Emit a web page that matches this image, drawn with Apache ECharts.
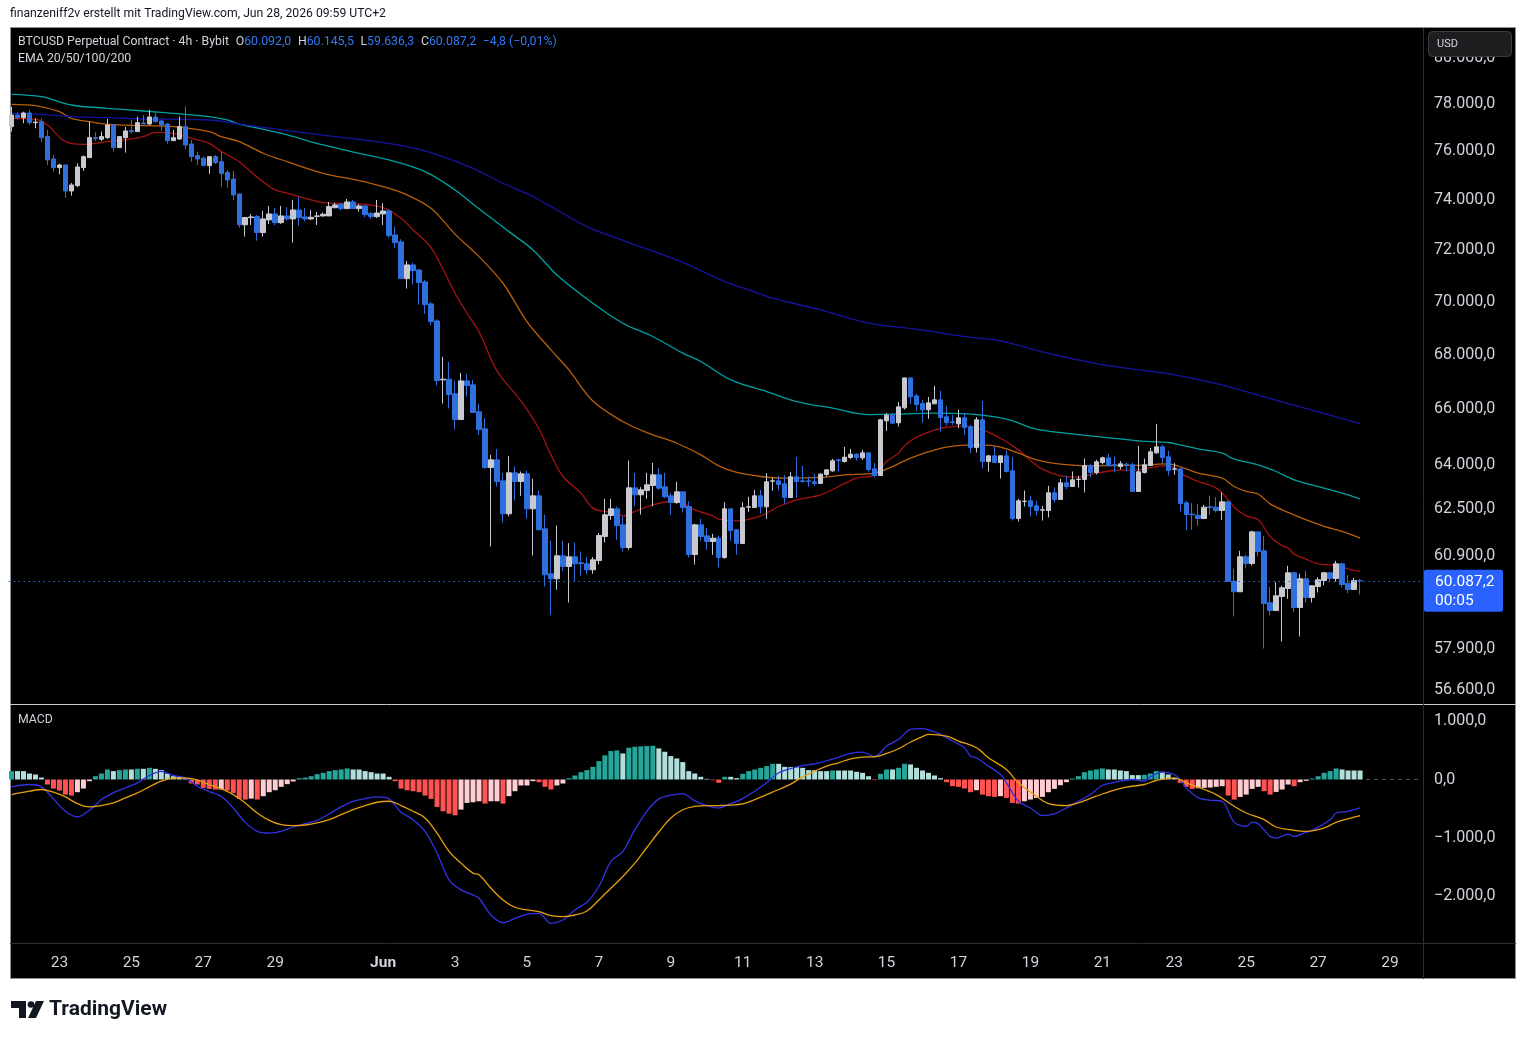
<!DOCTYPE html>
<html><head><meta charset="utf-8">
<script src="https://cdn.jsdelivr.net/npm/echarts@6/dist/echarts.min.js"></script>
<style>html,body{margin:0;padding:0;background:#fff}#c{width:1526px;height:1040px}</style>
</head><body><div id="c"></div>
<script>
// ---- data ----
const opens = [77040,77532,77420,77617,77208,77250,76620,75688,75330,75440,
74375,74592,75330,75744,76577,76508,76577,77110,76160,76577,
76870,76830,77194,77152,77448,77278,77152,76450,76520,77040,
76312,75828,75717,75412,75785,75577,75125,74865,74253,73010,
73298,73338,72700,73205,73445,73097,73365,73245,73606,73325,
73245,73350,73365,73365,73700,73835,73660,73929,73660,73767,
73458,73338,73445,73566,72606,72330,70892,71425,71230,70764,
69917,69270,67070,67095,66560,65630,67033,66887,65910,65296,
63928,64198,63465,62330,63744,63441,63709,62500,62946,61820,
60317,60152,60914,60559,60881,60682,60648,60449,60758,61561,
62272,62500,61955,61191,63222,62981,63129,63303,63674,63257,
62946,62717,63084,62580,60958,61955,61584,61393,61505,60858,
62500,61786,61326,62557,62546,62946,62569,63454,63465,63361,
62889,63604,63465,63465,63431,63372,63686,63813,64198,64140,
64280,64398,64268,64444,63883,63651,65583,65788,65512,66051,
67143,66485,66207,65979,66196,66340,65727,65547,65476,65691,
65368,64632,65619,64140,64339,64104,64339,63813,62170,62752,
62775,62603,62455,62443,63050,62820,63396,63268,63512,63512,
63988,63756,64104,64268,64023,63964,64046,64023,63096,63756,
63999,64444,64656,64303,63872,63883,62706,62318,62284,62170,
62568,62557,62443,62740,60075,59727,60881,60659,61718,61081,
59368,59119,59574,59835,60350,59216,60152,59541,59901,60097,
60350,60163,60648,59999,59803,60092];
const closes = [77532,77420,77617,77208,77230,76577,75647,75330,75440,74375,
74620,75358,75785,76577,76535,76620,77110,76160,76620,76857,
76830,77208,77152,77448,77250,77110,76450,76577,77040,76270,
75785,75688,75412,75785,75536,75084,74824,74213,73010,73300,
73325,72700,73245,73445,73097,73365,73245,73606,73298,73245,
73312,73365,73432,73740,73808,73660,73929,73660,73767,73418,
73338,73485,73566,72580,72302,70892,71425,71202,70738,69890,
69243,67045,67095,66535,65630,67033,66862,65885,65271,63928,
64198,63441,62330,63744,63441,63709,62500,62946,61786,60284,
60152,60914,60559,60881,60648,60659,60449,60781,61595,62296,
62500,61932,61191,63222,62981,63153,63327,63674,63212,62912,
62717,63084,62546,60958,61955,61561,61393,61505,60858,62500,
61763,61326,62535,62569,62946,62569,63431,63465,63338,62889,
63604,63441,63441,63441,63372,63698,63848,64163,64174,64292,
64398,64280,64444,63859,63651,65619,65788,65500,66087,67143,
66449,66170,65979,66232,66340,65703,65524,65524,65691,65343,
64632,65619,64140,64339,64104,64339,63790,62170,62775,62763,
62580,62443,62466,63050,62820,63396,63268,63500,63523,63988,
63756,64128,64268,63999,64012,64058,64035,63096,63779,64023,
64480,64656,64280,63824,63883,62683,62307,62296,62170,62557,
62546,62443,62740,60064,59727,60881,60659,61718,61058,59346,
59119,59596,59858,60350,59216,60152,59541,59923,60119,60350,
60163,60648,59966,59803,60092,60087.2];
const lows = [76830,77320,77180,77110,76970,76382,75440,75167,75058,74105,
74185,74538,75194,75744,76437,76437,76520,75994,76160,75952,
76745,76830,77138,77110,77208,76870,76326,76437,76479,76105,
75577,75440,75412,75071,75482,74550,74510,74010,72900,72540,
73005,72380,72540,73044,72992,73044,73178,72302,72965,73150,
73205,73005,73338,73365,73660,73580,73660,73660,73538,73312,
73232,73285,73005,72500,72092,70892,70506,70660,69890,69535,
69118,66862,66206,66030,65271,65630,66463,65885,65082,63883,
61226,63268,62033,62238,62785,62946,62170,60925,61786,59901,
58980,59792,60416,59378,60053,60261,60306,60317,60625,61360,
62125,61449,61058,61114,62603,62306,62843,62580,63153,62867,
62296,62672,62374,60858,60625,61426,61114,60947,60526,60814,
61416,60947,61326,62398,62546,62340,62159,63119,63129,62672,
62889,62878,63406,63257,63292,63372,63616,63779,63790,64104,
64233,64174,64198,63779,63582,63651,65224,65464,65380,65990,
66185,65943,65523,65655,66196,65200,65415,65440,65320,65082,
64433,64456,63894,63790,64104,63547,63756,62103,62069,62580,
62238,62272,62103,62204,62717,62820,63177,63268,63234,63061,
63593,63686,64035,63964,63756,63859,63790,63096,63096,63721,
63977,64409,64083,63651,63674,62409,61763,61786,61922,62170,
62296,62375,62125,60064,58926,59727,60494,60593,60892,57902,
58958,59119,58125,59498,59055,58284,59378,59378,59705,59934,
60031,60064,59868,59683,59803,59636.3];
const highs = [77885,77645,77673,77745,77390,77390,76900,75855,75494,75468,
74702,75508,75828,77250,76800,76830,77362,77138,76620,77025,
77320,77462,77532,77745,77673,77320,77180,76900,77462,77900,
76479,75994,75785,75785,75855,75994,75235,75194,74280,73330,
73445,73405,73566,73767,73687,73767,73714,74010,74118,73687,
73606,73526,73498,73929,73900,73876,74050,74010,73848,73795,
73526,74010,73876,73633,72937,72435,71580,71515,71257,70841,
70000,69333,67920,67734,67045,67328,67291,67070,66196,65680,
64374,64585,63733,64339,63963,63789,63824,63535,63129,62296,
61416,61932,61416,61338,61360,61058,60858,60870,61675,62843,
62843,62580,62238,64174,63744,63247,63744,64093,63918,63744,
63050,63431,63084,62764,61989,62159,61854,61652,61584,62730,
62500,61809,62730,62912,63153,63153,63733,63582,63639,63663,
63779,64303,63988,63616,63709,63733,63848,64233,64233,64656,
64585,64433,64550,64444,64083,65655,65860,65871,66268,67143,
67143,66560,66330,66449,66850,66668,66123,65800,65979,65860,
65440,65715,66304,64374,64667,64339,64526,64292,62843,63130,
62946,62775,62603,63292,63234,63535,63639,63790,63639,64245,
64058,64198,64315,64409,64315,64152,64104,64104,64691,64245,
64620,65476,64727,64515,64083,63906,62775,62695,62672,62637,
62946,62901,63061,62775,60484,61081,60947,61752,61718,61584,
59890,60042,59923,60582,60383,60317,60416,59923,60207,60383,
60350,60748,60682,60284,60185,60145.5];

const ema20 = [[0,77390],[4,77348],[6,77110],[9,76410],[12,76298],[16,76410],[19,76479],[22,76620],[24,76800],[27,76758],[30,76549],[33,76340],[35,75994],[38,75577],[41,74934],[44,74416],[46,74290],[49,74077],[52,73900],[58,73848],[62,73700],[65,73272],[67,72805],[70,72100],[74,70326],[76,69560],[78,68860],[81,67400],[85,66300],[88,65300],[90,64374],[92,63616],[95,63038],[97,62524],[99,62409],[101,62374],[102,62261],[104,62409],[107,62637],[110,62752],[112,62695],[114,62466],[117,62261],[118,62148],[121,62091],[125,62261],[128,62580],[131,62809],[135,62981],[138,63268],[141,63558],[144,63674],[146,64140],[148,64433],[149,64691],[151,64999],[155,65320],[156,65356],[159,65403],[162,65260],[165,64963],[168,64550],[170,64174],[172,63871],[175,63639],[178,63593],[181,63733],[184,63825],[188,63848],[191,63963],[192,63988],[194,63940],[195,63733],[198,63441],[201,63212],[203,62809],[204,62557],[206,62261],[208,62125],[210,61561],[212,61248],[213,61170],[214,60970],[216,60803],[218,60648],[221,60593],[223,60471],[225,60394]];
const ema50 = [[0,77987],[4,77927],[8,77673],[10,77390],[13,77250],[16,77138],[22,77082],[27,77040],[33,76830],[35,76620],[38,76410],[42,75925],[46,75577],[52,75098],[58,74797],[62,74550],[66,74213],[70,73673],[74,72640],[78,71750],[82,70712],[86,69245],[90,68180],[93,67438],[97,66300],[102,65558],[106,65163],[111,64784],[115,64374],[118,63988],[121,63756],[125,63616],[129,63558],[135,63582],[139,63674],[144,63733],[147,63963],[150,64257],[155,64600],[159,64715],[162,64727],[165,64645],[168,64433],[171,64198],[175,64046],[180,63988],[184,63999],[189,64010],[192,64058],[194,64023],[198,63732],[202,63558],[204,63270],[206,63100],[208,63010],[210,62670],[213,62380],[216,62125],[219,61900],[222,61730],[225,61505]];
const ema100 = [[0,78415],[5,78312],[10,77957],[16,77817],[22,77702],[27,77603],[33,77462],[36,77320],[38,77148],[42,76925],[46,76690],[52,76270],[58,75925],[63,75647],[69,75167],[74,74416],[78,73650],[83,72738],[87,72013],[91,71035],[97,69943],[102,69182],[107,68680],[112,68060],[115,67747],[120,67070],[126,66643],[131,66280],[137,66040],[143,65810],[148,65823],[153,65860],[160,65823],[166,65643],[171,65284],[177,65118],[182,65000],[188,64870],[193,64810],[195,64727],[198,64585],[202,64433],[204,64222],[208,64023],[211,63790],[214,63500],[219,63212],[222,63038],[225,62843]];
const ema200 = [[0,77603],[5,77560],[10,77462],[16,77420],[22,77362],[27,77348],[33,77320],[38,77148],[46,76868],[54,76620],[62,76368],[66,76200],[70,75952],[77,75302],[82,74690],[87,74150],[91,73606],[96,72937],[103,72302],[111,71620],[119,70775],[123,70454],[127,70134],[135,69688],[143,69182],[151,68955],[159,68680],[165,68520],[173,68050],[181,67673],[188,67438],[193,67300],[201,66930],[209,66450],[218,65907],[225,65487]];

const macdLine = [[0,-126],[3,-86],[5,-126],[7,-333],[9,-546],[11,-644],[13,-529],[15,-345],[17,-230],[19,-144],[21,-57],[23,69],[25,138],[27,69],[29,29],[31,-115],[33,-207],[35,-287],[37,-489],[39,-736],[41,-891],[43,-920],[45,-891],[47,-816],[49,-759],[51,-701],[53,-592],[55,-471],[57,-374],[59,-328],[61,-299],[63,-333],[65,-563],[67,-690],[69,-891],[71,-1264],[73,-1724],[75,-1897],[77,-1983],[78,-2040],[80,-2328],[82,-2460],[84,-2385],[86,-2316],[88,-2299],[90,-2471],[92,-2414],[94,-2241],[96,-2109],[98,-1839],[100,-1408],[102,-1236],[104,-862],[106,-546],[108,-333],[110,-270],[112,-241],[114,-368],[116,-448],[118,-489],[120,-414],[122,-328],[124,-201],[126,-57],[128,115],[130,184],[132,241],[134,270],[136,322],[138,385],[140,448],[142,471],[144,391],[146,575],[148,690],[150,862],[152,874],[153,851],[155,776],[157,661],[159,546],[160,402],[161,374],[163,230],[165,86],[166,-57],[168,-374],[170,-489],[172,-621],[174,-592],[176,-489],[178,-374],[180,-259],[182,-103],[185,-29],[187,0],[189,-29],[190,46],[192,126],[194,86],[195,0],[196,-144],[198,-316],[200,-356],[202,-374],[204,-736],[206,-805],[207,-736],[208,-759],[210,-977],[211,-1006],[213,-937],[214,-977],[216,-908],[217,-874],[220,-690],[221,-575],[223,-546],[225,-489]];
const signalLine = [[0,-259],[3,-201],[5,-172],[7,-218],[9,-299],[11,-414],[13,-471],[15,-448],[17,-402],[19,-316],[21,-230],[23,-126],[25,-29],[27,23],[29,29],[31,-11],[33,-86],[35,-161],[37,-259],[39,-402],[41,-575],[43,-701],[45,-776],[47,-793],[49,-782],[51,-747],[53,-690],[55,-603],[57,-517],[59,-448],[61,-391],[63,-374],[65,-448],[67,-546],[69,-661],[71,-920],[73,-1236],[75,-1437],[77,-1609],[78,-1638],[80,-1868],[82,-2069],[84,-2195],[86,-2241],[88,-2270],[90,-2339],[92,-2356],[94,-2328],[96,-2259],[98,-2069],[100,-1868],[102,-1667],[104,-1437],[106,-1168],[108,-902],[110,-661],[112,-520],[114,-460],[116,-448],[118,-448],[120,-440],[122,-420],[124,-345],[126,-259],[128,-172],[130,-80],[132,46],[134,144],[136,230],[138,287],[140,356],[142,385],[144,391],[146,448],[148,529],[150,644],[152,736],[153,776],[156,747],[158,661],[161,546],[163,374],[166,172],[168,-57],[171,-287],[173,-414],[176,-448],[178,-402],[181,-287],[184,-184],[186,-132],[189,-86],[191,-17],[194,29],[196,-57],[199,-172],[201,-259],[204,-460],[206,-575],[209,-690],[211,-816],[214,-874],[216,-891],[219,-833],[221,-736],[225,-621]];
const histogram = [144,144,144,103,86,34,-86,-155,-190,-259,
-276,-218,-155,-29,57,103,172,144,161,172,
172,184,184,201,184,161,103,57,46,23,
-69,-86,-144,-161,-172,-172,-190,-230,-333,-345,
-328,-345,-287,-218,-184,-126,-80,-34,23,34,
57,92,115,144,161,172,190,172,172,144,
126,103,103,46,-29,-155,-184,-201,-218,-276,
-333,-471,-546,-586,-615,-517,-402,-391,-374,-414,
-374,-374,-414,-287,-201,-103,-103,-29,-46,-126,
-172,-103,-69,23,69,126,161,218,316,414,
489,500,448,546,563,569,575,580,534,477,
402,362,299,144,103,46,11,-11,-57,46,
46,23,98,144,172,201,230,270,270,218,
213,213,201,161,161,144,144,155,155,155,
155,132,115,57,-11,98,172,172,201,270,
259,201,155,115,69,23,-46,-115,-126,-155,
-218,-184,-259,-287,-299,-287,-316,-402,-414,-374,
-345,-316,-299,-218,-161,-98,-46,17,57,126,
155,172,190,172,172,155,144,75,75,80,
103,144,132,86,29,-57,-126,-161,-149,-144,
-138,-126,-115,-276,-345,-299,-259,-161,-126,-201,
-259,-213,-172,-86,-115,-46,-23,17,57,115,
144,190,172,155,155,155];

const xLabelIdx  = [8,20,32,44,62,74,86,98,110,122,134,146,158,170,182,194,206,218,230];
const xLabelText = ['23','25','27','29','Jun','3','5','7','9','11','13','15','17','19','21','23','25','27','29'];
const priceTickVals = [80000,78000,76000,74000,72000,70000,68000,66000,64000,62500,60900,57900,56600];
const priceTickText = ['80.000,0','78.000,0','76.000,0','74.000,0','72.000,0','70.000,0','68.000,0','66.000,0','64.000,0','62.500,0','60.900,0','57.900,0','56.600,0'];
const macdTickVals = [1000,0,-1000,-2000];
const macdTickText = ['1.000,0','0,0','\u22121.000,0','\u22122.000,0'];
const lastPrice = 60087.2;
const lastPriceText = '60.087,2';
const countdownText = '00:05';

// ---- build ----
const NCAT = 236;
const cats = Array.from({length: NCAT}, (_, i) => String(i));
const labelMap = {};
xLabelIdx.forEach((k, j) => labelMap[k] = xLabelText[j]);
const FONT = 'Roboto, "Liberation Sans", sans-serif';
const AXC = '#d1d4dc';

const candleData = opens.map((o, i) => [o, closes[i], lows[i], highs[i]]);
const histData = histogram.map((v, i) => {
  const prev = i > 0 ? histogram[i - 1] : -Infinity;
  let c;
  if (v >= 0) c = (i === 0 || v > prev) ? '#26a69a' : '#b2dfdb';
  else c = (v < prev) ? '#ff5252' : '#ffcdd2';
  return {value: v, itemStyle: {color: c}};
});

const GL = 8.5, GW = 1414.5;
const chart = echarts.init(document.getElementById('c'), null, {renderer: 'canvas'});

const baseGraphic = [
  {id: 'bg', type: 'rect', z: -10, shape: {x: 10.5, y: 27.5, width: 1505, height: 951}, style: {fill: '#000', stroke: '#8f9199', lineWidth: 1}},
  {id: 'sepH1', type: 'line', z: 5, shape: {x1: 10, y1: 704.5, x2: 1516, y2: 704.5}, style: {stroke: '#c9cbd1', lineWidth: 1}},
  {id: 'sepH2', type: 'line', z: 5, shape: {x1: 10, y1: 943.5, x2: 1516, y2: 943.5}, style: {stroke: '#2a2e39', lineWidth: 1}},
  {id: 'sepV', type: 'line', z: 5, shape: {x1: 1423.5, y1: 28, x2: 1423.5, y2: 979}, style: {stroke: '#2a2e39', lineWidth: 1}},
  {id: 'credit', type: 'text', x: 10, y: 14, style: {text: 'finanzeniff2v erstellt mit TradingView.com, Jun 28, 2026 09:59 UTC+2', fill: '#131722', font: '12.2px ' + FONT, verticalAlign: 'middle'}},
  {id: 'hdr', type: 'text', x: 18, y: 42, z: 20, style: {
    text: '{w|BTCUSD Perpetual Contract · 4h · Bybit}  {w|O}{b|60.092,0}  {w|H}{b|60.145,5}  {w|L}{b|59.636,3}  {w|C}{b|60.087,2}  {b|\u22124,8 (\u22120,01%)}',
    verticalAlign: 'middle',
    rich: {w: {fill: '#d1d4dc', font: '12.3px ' + FONT}, b: {fill: '#3179f5', font: '12.3px ' + FONT}}
  }},
  {id: 'ema', type: 'text', x: 18, y: 59, z: 20, style: {text: 'EMA 20/50/100/200', fill: '#d1d4dc', font: '12.3px ' + FONT, verticalAlign: 'middle'}},
  {id: 'macdT', type: 'text', x: 18, y: 720, z: 20, style: {text: 'MACD', fill: '#d1d4dc', font: '12.3px ' + FONT, verticalAlign: 'middle'}},
  {id: 'usdBox', type: 'rect', z: 100, shape: {x: 1428.5, y: 31.5, width: 83, height: 25, r: 4}, style: {fill: '#1e1e20', stroke: '#3a3d46', lineWidth: 1}},
  {id: 'usdT', type: 'text', z: 101, x: 1437, y: 44, style: {text: 'USD', fill: '#d1d4dc', font: '11px ' + FONT, verticalAlign: 'middle'}},
  // TradingView logo
  {id: 'lg1', type: 'polygon', shape: {points: [[11,1001],[26,1001],[26,1018],[19,1018],[19,1008],[11,1008]]}, style: {fill: '#131722'}},
  {id: 'lg2', type: 'circle', shape: {cx: 31, cy: 1004.5, r: 3.3}, style: {fill: '#131722'}},
  {id: 'lg3', type: 'polygon', shape: {points: [[36,1001],[44,1001],[36,1018],[28,1018]]}, style: {fill: '#131722'}},
  {id: 'lgT', type: 'text', x: 49, y: 1010, style: {text: 'TradingView', fill: '#131722', font: 'bold 21px ' + FONT, verticalAlign: 'middle'}}
];

const hidden = {color: 'rgba(0,0,0,0)', width: 1, opacity: 1, type: 'solid'};
const tickLabel = {show: true, position: 'end', distance: 11, color: AXC, fontSize: 16, fontFamily: FONT, padding: [4, 0, 0, 0]};
const priceMarks = priceTickVals.map((v, k) => ({yAxis: v, lineStyle: hidden, label: Object.assign({}, tickLabel, {formatter: priceTickText[k]})}));
const macdMarks = macdTickVals.map((v, k) => ({yAxis: v, lineStyle: hidden, label: Object.assign({}, tickLabel, {formatter: macdTickText[k]})}));

function emaSeries(name, data, color, extra) {
  return Object.assign({
    name, type: 'line', xAxisIndex: 0, yAxisIndex: 0, data, smooth: 0.35, symbol: 'none',
    lineStyle: {color, width: 1.3}, silent: true, z: 3
  }, extra || {});
}

const option = {
  backgroundColor: '#ffffff',
  animation: false,
  textStyle: {fontFamily: FONT},
  grid: [
    {left: GL, width: GW, top: 28, height: 676},
    {left: GL, width: GW, top: 705, height: 238}
  ],
  xAxis: [
    {type: 'category', gridIndex: 0, data: cats, boundaryGap: true, axisLine: {show: false}, axisTick: {show: false}, axisLabel: {show: false}, splitLine: {show: false}},
    {type: 'category', gridIndex: 1, data: cats, boundaryGap: true, axisLine: {show: false}, axisTick: {show: false}, splitLine: {show: false},
      axisLabel: {
        show: true, color: AXC, fontSize: 15.5, fontFamily: FONT, margin: 12,
        interval: (idx) => labelMap[idx] !== undefined,
        formatter: (val, idx) => labelMap[idx] === 'Jun' ? '{m|Jun}' : (labelMap[idx] || ''),
        rich: {m: {color: AXC, fontSize: 15.5, fontWeight: 'bold', fontFamily: FONT}}
      }}
  ],
  yAxis: [
    {type: 'log', logBase: 10, gridIndex: 0, min: 56169, max: 81312, axisLine: {show: false}, axisTick: {show: false}, axisLabel: {show: false}, splitLine: {show: false}},
    {type: 'value', gridIndex: 1, min: -2809, max: 1280, axisLine: {show: false}, axisTick: {show: false}, axisLabel: {show: false}, splitLine: {show: false}}
  ],
  series: [
    {
      name: 'BTCUSD', type: 'candlestick', xAxisIndex: 0, yAxisIndex: 0, data: candleData, barWidth: 5, z: 4,
      itemStyle: {color: '#c8cad0', color0: '#2f6fde', borderColor: '#c8cad0', borderColor0: '#2f6fde', borderWidth: 1},
      markLine: {
        silent: true, symbol: ['none', 'none'], animation: false,
        data: [{yAxis: lastPrice, lineStyle: {color: '#2f6fde', type: [1.5, 3.5], width: 1, opacity: 1}, label: {show: false}}]
      }
    },
    emaSeries('EMA20', ema20, '#a51212'),
    emaSeries('EMA50', ema50, '#b95f0c'),
    emaSeries('EMA100', ema100, '#00a0a0'),
    emaSeries('EMA200', ema200, '#1414a0', {
      clip: false,
      markLine: {
        silent: true, symbol: ['none', 'none'], animation: false,
        lineStyle: hidden, label: tickLabel,
        data: priceMarks
      }
    }),
    {
      name: 'Histogram', type: 'bar', xAxisIndex: 1, yAxisIndex: 1, data: histData, barWidth: 5, silent: true, z: 2,
      markLine: {
        silent: true, symbol: ['none', 'none'], animation: false,
        lineStyle: hidden, label: tickLabel,
        data: macdMarks.concat([[
          {coord: [226, 0], lineStyle: {color: '#555', type: [4, 4], width: 1, opacity: 1}, label: {show: false}},
          {coord: [235, 0]}
        ]])
      }
    },
    {name: 'MACD', type: 'line', xAxisIndex: 1, yAxisIndex: 1, data: macdLine, smooth: 0.3, symbol: 'none', lineStyle: {color: '#3232e6', width: 1.3}, silent: true, z: 3},
    {name: 'Signal', type: 'line', xAxisIndex: 1, yAxisIndex: 1, data: signalLine, smooth: 0.4, symbol: 'none', lineStyle: {color: '#e6a00e', width: 1.3}, silent: true, z: 3}
  ],
  graphic: {elements: baseGraphic}
};
chart.setOption(option);

// current price tag positioned through the price scale
const py = chart.convertToPixel({yAxisIndex: 0}, lastPrice);
chart.setOption({graphic: {elements: baseGraphic.concat([
  {id: 'pBox', type: 'rect', z: 110, shape: {x: 1424, y: py - 11, width: 79, height: 42, r: 2}, style: {fill: '#2962ff'}},
  {id: 'pT1', type: 'text', z: 111, x: 1435, y: py + 1, style: {text: lastPriceText, fill: '#ffffff', font: '15.5px ' + FONT, verticalAlign: 'middle'}},
  {id: 'pT2', type: 'text', z: 111, x: 1435, y: py + 20, style: {text: countdownText, fill: '#ffffff', font: '15.5px ' + FONT, verticalAlign: 'middle'}}
])}});
</script></body></html>
